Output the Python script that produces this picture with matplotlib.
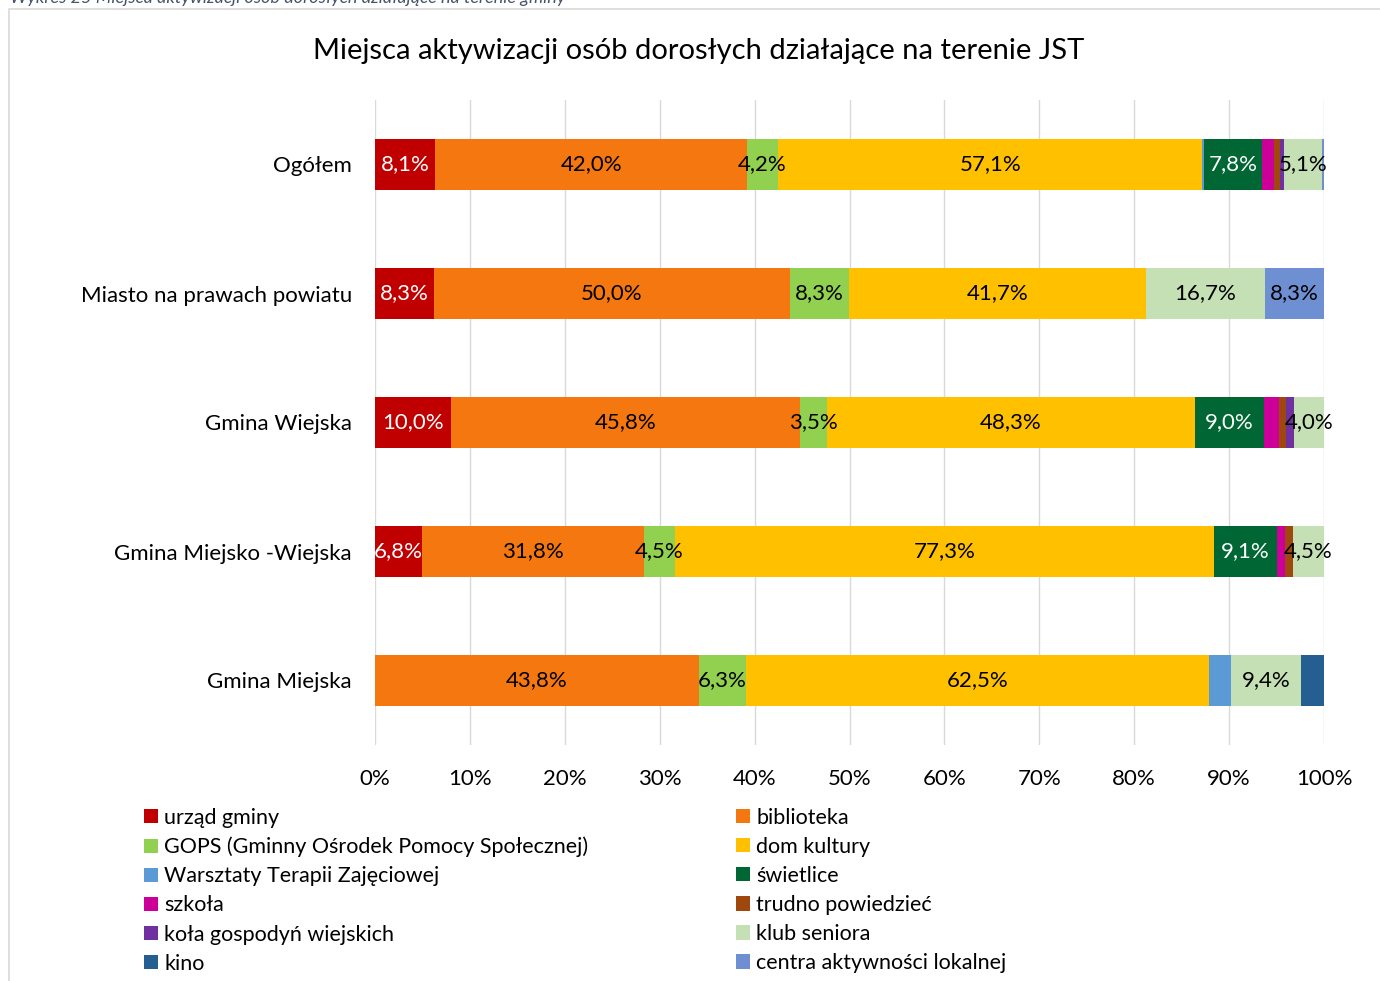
import numpy as np
import matplotlib
import matplotlib.pyplot as plt
from matplotlib.patches import Rectangle
matplotlib.use('Agg')

plt.rcParams['font.family'] = ['Lato', 'DejaVu Sans']

groups = ['Ogółem', 'Miasto na prawach powiatu', 'Gmina Wiejska',
          'Gmina Miejsko -Wiejska', 'Gmina Miejska']

series = ['urząd gminy', 'biblioteka', 'GOPS (Gminny Ośrodek Pomocy Społecznej)',
          'dom kultury', 'Warsztaty Terapii Zajęciowej', 'świetlice', 'szkoła',
          'trudno powiedzieć', 'koła gospodyń wiejskich', 'klub seniora', 'kino',
          'centra aktywności lokalnej']

# percentages per group, in the order of `series`
urzad = [8.1, 8.3, 10.0, 6.8, 0.0]
biblioteka = [42.0, 50.0, 45.8, 31.8, 43.8]
gops = [4.2, 8.3, 3.5, 4.5, 6.3]
dom_kultury = [57.1, 41.7, 48.3, 77.3, 62.5]
wtz = [0.3, 0.0, 0.0, 0.0, 3.1]
swietlice = [7.8, 0.0, 9.0, 9.1, 0.0]
szkola = [1.6, 0.0, 2.0, 1.1, 0.0]
trudno = [0.8, 0.0, 0.9, 1.1, 0.0]
kola = [0.5, 0.0, 1.0, 0.0, 0.0]
klub_seniora = [5.1, 16.7, 4.0, 4.5, 9.4]
kino = [0.0, 0.0, 0.0, 0.0, 3.1]
centra = [0.3, 8.3, 0.0, 0.0, 0.0]

colors = ['#C00000', '#F4770F', '#92D050', '#FFC000', '#5B9BD5', '#006633',
          '#CC0099', '#9E480E', '#7030A0', '#C5E0B4', '#255E91', '#6F8FD3']
label_colors = ['white', 'black', 'black', 'black', 'black', 'white',
                'black', 'black', 'black', 'black', 'black', 'black']

data = np.array([urzad, biblioteka, gops, dom_kultury, wtz, swietlice, szkola,
                 trudno, kola, klub_seniora, kino, centra])
shares = data / data.sum(axis=0) * 100

fig = plt.figure(figsize=(13.8, 9.81), dpi=100)
ax = fig.add_axes([375 / 1380, 1 - 745 / 981, 949 / 1380, 645 / 981])

y = np.arange(len(groups))
left = np.zeros(len(groups))
handles = []
for i, name in enumerate(series):
    bars = ax.barh(y, shares[i], left=left, height=0.4, color=colors[i],
                   label=name, zorder=3)
    handles.append(bars)
    for j in range(len(groups)):
        if data[i, j] >= 3.5:
            ax.text(left[j] + shares[i, j] / 2, y[j],
                    f'{data[i, j]:.1f}%'.replace('.', ','),
                    ha='center', va='center', fontsize=16,
                    color=label_colors[i], zorder=4)
    left += shares[i]

ax.set_xlim(0, 100)
ax.set_ylim(4.5, -0.5)
ax.set_yticks(y)
ax.set_yticklabels(groups, fontsize=16)
ax.set_xticks(np.arange(0, 101, 10))
ax.set_xticklabels([f'{v}%' for v in range(0, 101, 10)], fontsize=16)
ax.tick_params(length=0)
ax.tick_params(axis='y', pad=16.5)
ax.tick_params(axis='x', pad=17)
ax.grid(axis='x', color='#D9D9D9', linewidth=1, zorder=0)
for s in ax.spines.values():
    s.set_visible(False)

fig.text(699 / 1380, 1 - 51 / 981, 'Miejsca aktywizacji osób dorosłych działające na terenie JST',
         ha='center', va='center', fontsize=21)

fig.text(10 / 1380, 1 - 6 / 981,
         'Wykres 25 Miejsca aktywizacji osób dorosłych działające na terenie gminy',
         ha='left', va='bottom', fontsize=13, style='italic', color='#44546A')

fig.patches.append(Rectangle((9 / 1380, -0.01), 1.1, 1 - 9 / 981 + 0.01,
                             transform=fig.transFigure, fill=False,
                             edgecolor='#D9D9D9', linewidth=1.2))

order = [0, 2, 4, 6, 8, 10, 1, 3, 5, 7, 9, 11]
fig.legend([handles[k] for k in order], [series[k] for k in order],
           loc='upper left', bbox_to_anchor=(133 / 1380, 1 - 797 / 981),
           ncol=2, frameon=False, fontsize=15.5, handlelength=0.65,
           handleheight=0.65, handletextpad=0.3, labelspacing=0.42,
           columnspacing=6.85, borderpad=0)

fig.savefig('out.png', dpi=100)
